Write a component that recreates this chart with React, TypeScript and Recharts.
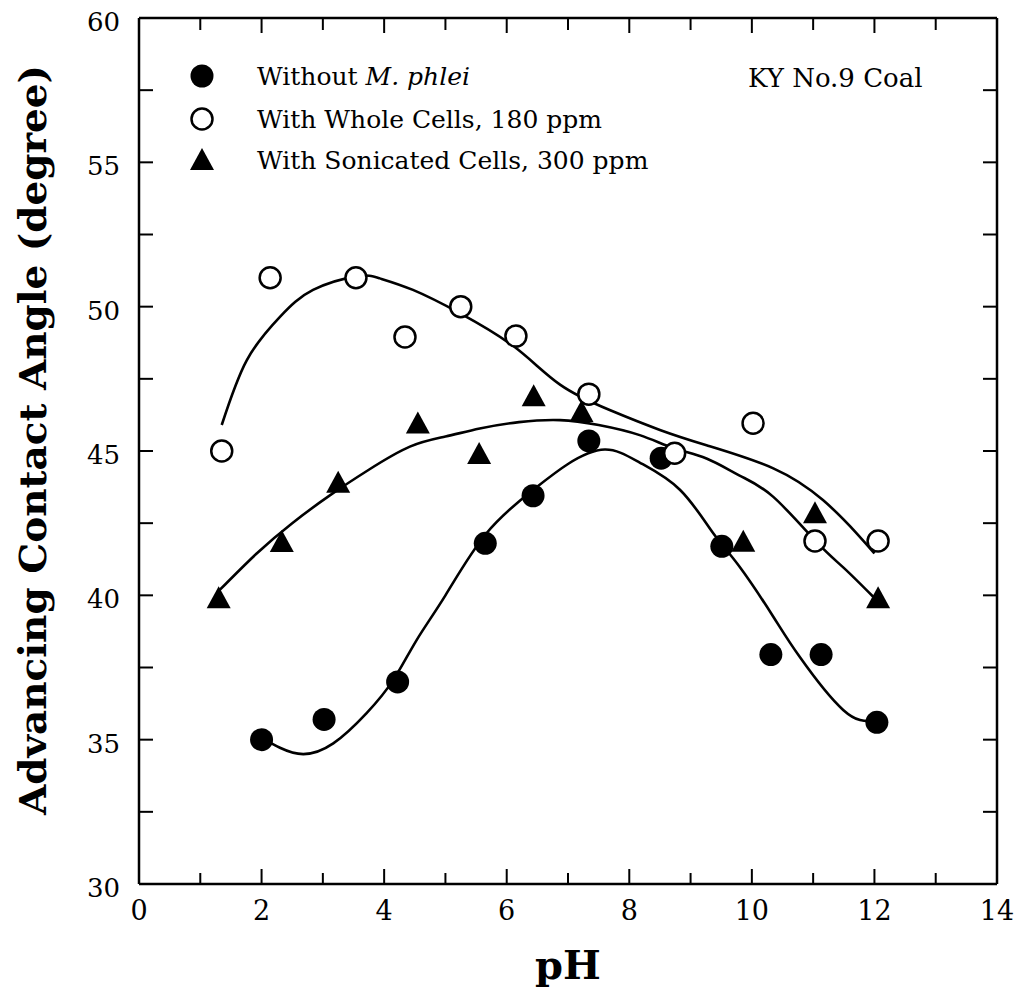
import React from 'react';
import { ComposedChart, Line, Scatter, XAxis, YAxis } from 'recharts';

// measured points
const noCellsPH = [2.0, 3.02, 4.22, 5.65, 6.43, 7.34, 8.52, 9.51, 10.31, 11.13, 12.04];
const noCellsAngle = [35.0, 35.7, 37.0, 41.8, 43.45, 45.35, 44.75, 41.7, 37.95, 37.95, 35.6];

const wholePH = [1.35, 2.14, 3.54, 4.34, 5.25, 6.15, 7.34, 8.74, 10.02, 11.03, 12.06];
const wholeAngle = [45.0, 51.0, 51.0, 48.95, 50.0, 48.98, 46.97, 44.92, 45.96, 41.88, 41.88];

const sonicPH = [1.3, 2.33, 3.25, 4.55, 5.55, 6.44, 7.22, 9.86, 11.03, 12.06];
const sonicAngle = [39.9, 41.85, 43.9, 45.95, 44.9, 46.9, 46.35, 41.86, 42.84, 39.9];

// fitted curves
const noCellsFitPH = [2.05, 2.3, 2.68, 3.17, 3.71, 4.15, 4.53, 5.0, 5.67, 6.43, 7.0, 7.6, 8.17, 8.83, 9.37, 9.8, 10.35, 10.78, 11.49, 11.98];
const noCellsFitAngle = [35.0, 34.72, 34.5, 34.87, 35.91, 37.07, 38.45, 40.0, 42.15, 43.65, 44.55, 45.05, 44.6, 43.65, 42.15, 40.99, 39.26, 37.87, 36.03, 35.65];

const wholeFitPH = [1.35, 1.76, 2.3, 2.84, 3.55, 3.93, 4.47, 5.24, 6.13, 6.87, 7.68, 8.5, 9.26, 10.35, 11.16, 11.71, 12.0];
const wholeFitAngle = [45.9, 48.15, 49.65, 50.58, 51.05, 50.98, 50.58, 49.77, 48.6, 47.3, 46.42, 45.73, 45.2, 44.4, 43.3, 42.15, 41.45];

const sonicFitPH = [1.3, 1.92, 2.5, 3.12, 3.75, 4.42, 5.0, 5.56, 6.2, 6.87, 7.5, 8.17, 8.72, 9.26, 9.8, 10.35, 11.05, 11.5, 11.98];
const sonicFitAngle = [40.15, 41.45, 42.5, 43.47, 44.35, 45.15, 45.5, 45.78, 46.0, 46.07, 45.9, 45.55, 45.1, 44.74, 44.15, 43.41, 41.86, 40.95, 39.95];

const xTicks = [0, 1, 2, 3, 4, 5, 6, 7, 8, 9, 10, 11, 12, 13, 14];
const xLabels = [0, 2, 4, 6, 8, 10, 12, 14];
const yTicks = [30, 32.5, 35, 37.5, 40, 42.5, 45, 47.5, 50, 52.5, 55, 57.5, 60];
const yLabels = [30, 35, 40, 45, 50, 55, 60];

const legendNames = ['Without ', 'With Whole Cells, 180 ppm', 'With Sonicated Cells, 300 ppm'];

const toPoints = (xs: number[], ys: number[]) => xs.map((ph, i) => ({ ph, angle: ys[i] }));

const FONT = '"DejaVu Serif", serif';

function BottomTick({ x, y, payload }: any) {
  const major = xLabels.includes(payload.value);
  return (
    <g>
      <line x1={x} x2={x} y1={y} y2={y - (major ? 15 : 11)} stroke="#000" strokeWidth={2} />
      {major && (
        <text x={x} y={y + 36} textAnchor="middle" fontFamily={FONT} fontSize={27} fill="#000">
          {payload.value}
        </text>
      )}
    </g>
  );
}

function TopTick({ x, y, payload }: any) {
  const major = xLabels.includes(payload.value);
  return <line x1={x} x2={x} y1={y} y2={y + (major ? 15 : 12)} stroke="#000" strokeWidth={2} />;
}

function LeftTick({ x, y, payload }: any) {
  const major = yLabels.includes(payload.value);
  return (
    <g>
      <line x1={x} x2={x + 14} y1={y} y2={y} stroke="#000" strokeWidth={2} />
      {major && (
        <text x={x - 19} y={y + 13} textAnchor="end" fontFamily={FONT} fontSize={26} fill="#000">
          {payload.value}
        </text>
      )}
    </g>
  );
}

function RightTick({ x, y }: any) {
  return <line x1={x} x2={x - 14} y1={y} y2={y} stroke="#000" strokeWidth={2} />;
}

const FilledDot = ({ cx, cy }: any) => <circle cx={cx} cy={cy} r={11.5} fill="#000" />;
const OpenDot = ({ cx, cy }: any) => (
  <circle cx={cx} cy={cy} r={10.5} fill="#fff" stroke="#000" strokeWidth={2.5} />
);
const Triangle = ({ cx, cy }: any) => (
  <polygon points={`${cx},${cy - 12} ${cx - 12},${cy + 10} ${cx + 12},${cy + 10}`} fill="#000" />
);

export default function App() {
  const W = 1009;
  const H = 979;
  return (
    <div style={{ position: 'relative', width: W, height: H, background: '#fff' }}>
      <ComposedChart
        width={W}
        height={H}
        margin={{ top: 9, right: 19, bottom: 0, left: 0 }}
        style={{ overflow: 'visible' }}
      >
        <XAxis
          dataKey="ph"
          type="number"
          domain={[0, 14]}
          ticks={xTicks}
          interval={0}
          tickSize={0}
          tickMargin={0}
          tick={<BottomTick />}
          axisLine={{ stroke: '#000', strokeWidth: 2.5 }}
          height={103}
          allowDataOverflow
        />
        <XAxis
          xAxisId="top"
          orientation="top"
          dataKey="ph"
          type="number"
          domain={[0, 14]}
          ticks={xTicks}
          interval={0}
          tickSize={0}
          tickMargin={0}
          tick={<TopTick />}
          axisLine={{ stroke: '#000', strokeWidth: 2.5 }}
          height={1}
          allowDataOverflow
        />
        <YAxis
          dataKey="angle"
          type="number"
          domain={[30, 60]}
          ticks={yTicks}
          interval={0}
          tickSize={0}
          tickMargin={0}
          tick={<LeftTick />}
          axisLine={{ stroke: '#000', strokeWidth: 2.5 }}
          width={131}
          allowDataOverflow
        />
        <YAxis
          yAxisId="right"
          orientation="right"
          dataKey="angle"
          type="number"
          domain={[30, 60]}
          ticks={yTicks}
          interval={0}
          tickSize={0}
          tickMargin={0}
          tick={<RightTick />}
          axisLine={{ stroke: '#000', strokeWidth: 2.5 }}
          width={1}
          allowDataOverflow
        />

        <Line data={toPoints(wholeFitPH, wholeFitAngle)} dataKey="angle" type="natural" stroke="#000" strokeWidth={2.6} dot={false} isAnimationActive={false} />
        <Line data={toPoints(sonicFitPH, sonicFitAngle)} dataKey="angle" type="natural" stroke="#000" strokeWidth={2.6} dot={false} isAnimationActive={false} />
        <Line data={toPoints(noCellsFitPH, noCellsFitAngle)} dataKey="angle" type="natural" stroke="#000" strokeWidth={2.6} dot={false} isAnimationActive={false} />

        <Scatter data={toPoints(sonicPH, sonicAngle)} dataKey="angle" shape={<Triangle />} isAnimationActive={false} />
        <Scatter data={toPoints(noCellsPH, noCellsAngle)} dataKey="angle" shape={<FilledDot />} isAnimationActive={false} />
        <Scatter data={toPoints(wholePH, wholeAngle)} dataKey="angle" shape={<OpenDot />} isAnimationActive={false} />
      </ComposedChart>

      <svg width={W} height={H} style={{ position: 'absolute', left: 0, top: 0, pointerEvents: 'none' }}>
        <text
          transform="translate(24,432) rotate(-90)"
          textAnchor="middle"
          dominantBaseline="central"
          fontFamily={FONT}
          fontWeight="bold"
          fontSize={38}
          textLength={750}
          lengthAdjust="spacingAndGlyphs"
          fill="#000"
        >
          Advancing Contact Angle (degree)
        </text>
        <text x={560} y={971} textAnchor="middle" fontFamily={FONT} fontWeight="bold" fontSize={40} fill="#000">
          pH
        </text>

        <circle cx={194} cy={68} r={11.5} fill="#000" />
        <circle cx={194} cy={111} r={10.5} fill="#fff" stroke="#000" strokeWidth={2.5} />
        <polygon points="194,140 182,162 206,162" fill="#000" />
        <text x={249} y={77} fontFamily={FONT} fontSize={25} fill="#000">
          {legendNames[0]}
          <tspan fontStyle="italic">M. phlei</tspan>
        </text>
        <text x={249} y={120} fontFamily={FONT} fontSize={25} fill="#000">
          {legendNames[1]}
        </text>
        <text x={249} y={161} fontFamily={FONT} fontSize={25} fill="#000">
          {legendNames[2]}
        </text>
        <text x={740} y={79} fontFamily={FONT} fontSize={26} fill="#000">
          KY No.9 Coal
        </text>
      </svg>
    </div>
  );
}
